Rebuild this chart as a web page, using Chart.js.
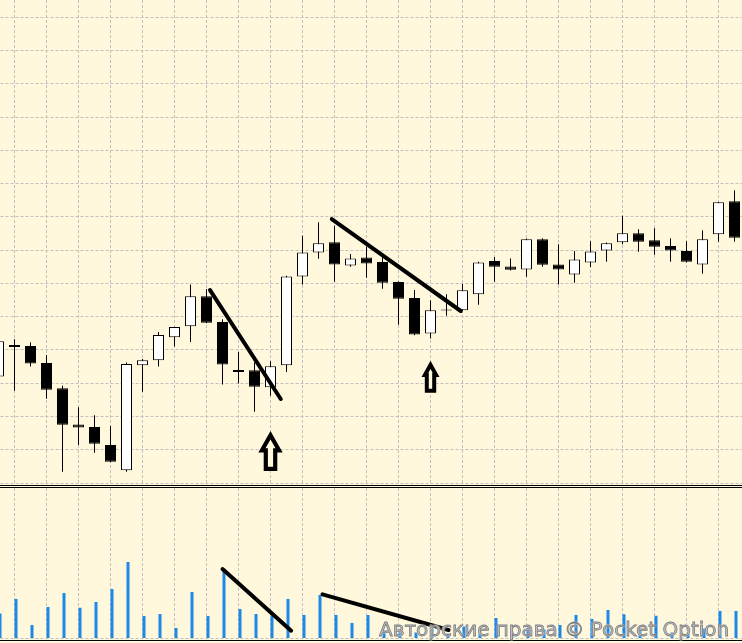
<!DOCTYPE html>
<html><head><meta charset="utf-8">
<script src="https://cdn.jsdelivr.net/npm/chart.js@4.4.0/dist/chart.umd.min.js"></script>
<style>
html,body{margin:0;padding:0;background:#fff8dc;width:742px;height:643px;overflow:hidden;position:relative}
#price{position:absolute;left:-10px;top:0;width:753px;height:485px}
#vol{position:absolute;left:-10px;top:488px;width:753px;height:152px}
.sep{position:absolute;left:0;width:742px;height:1px;background:#000}
#wm{position:absolute;left:379px;top:619px;font:20px/20px "DejaVu Sans",Verdana,sans-serif;color:#c2c2c2;-webkit-text-stroke:0.8px #7c7c7c;text-shadow:0 0 1px #fff,0 0 1px #fff,0 0 2px #fff;white-space:nowrap}
</style></head><body>
<canvas id="price" width="753" height="485"></canvas>
<div class="sep" style="top:485px"></div>
<div class="sep" style="top:487px"></div>
<canvas id="vol" width="753" height="152"></canvas>
<div class="sep" style="top:640px"></div>
<div id="wm">Авторские права © Pocket Option</div>
<script>
// ---- data ----
const labels = Array.from({length: 47}, (_, i) => String(i + 1));
const opens  = [32.0,41.5,41.2,36.1,28.5,17.6,16.8,11.4,3.8,35.4,36.9,43.8,47.1,56.1,48.4,34.0,33.9,28.8,35.4,62.1,69.3,72.4,65.4,67.8,66.4,60.4,55.6,44.9,52.15,51.9,56.7,66.7,65.1,64.2,73.3,65.7,62.7,66.3,69.9,72.4,75.1,73.0,71.2,69.7,65.7,74.8,84.7];
const closes = [42.6,40.9,35.9,28.0,17.5,16.7,11.8,6.4,35.8,36.9,44.5,46.9,56.1,48.2,35.6,33.4,28.9,35.1,62.1,69.3,72.1,65.7,67.5,66.0,60.2,55.4,44.6,51.9,51.85,57.9,66.3,65.0,64.1,73.3,65.6,64.2,67.2,69.6,72.1,75.1,72.5,71.0,69.9,66.5,73.3,84.4,73.7];
const highs  = [43.0,43.2,42.3,38.5,29.2,22.8,20.4,17.1,36.2,37.3,45.4,47.0,59.7,58.3,49.2,39.4,36.3,36.6,62.3,74.3,78.4,77.3,68.8,71.0,68.5,60.6,58.0,54.9,56.7,59.8,66.5,67.9,67.5,73.5,73.6,71.8,69.7,72.7,72.3,80.3,76.3,76.6,73.6,72.7,76.0,84.5,88.0];
const lows   = [31.6,27.7,35.0,25.3,3.4,11.4,9.1,6.2,3.4,27.4,35.0,41.0,42.4,48.0,29.6,29.9,21.4,26.2,33.4,59.7,67.4,60.5,65.0,61.7,58.4,47.6,44.4,43.4,50.3,51.7,53.6,60.5,63.9,62.0,65.0,59.7,60.2,64.9,66.5,71.8,69.5,68.6,66.5,66.3,62.9,72.5,72.5];
const volumes = [250,395,135,315,455,308,365,495,765,225,245,105,465,225,695,295,245,225,395,235,435,235,155,235,70,90,60,100,50,120,80,205,70,110,90,135,235,195,285,242,80,228,60,50,100,275,275];
const priceGridTicks = [0,10,20,30,40,50,60,70,80,90,100,110,120,130,140];
const volumeGridTicks = [0];
// trend lines (category index, value)
const priceTrend1 = [{x: 13.22, y: 58.0}, {x: 17.64, y: 25.25}];
const priceTrend2 = [{x: 20.83, y: 79.35}, {x: 28.89, y: 51.7}];
const volTrend1 = [{x: 14.0, y: 695}, {x: 18.29, y: 78}];
const volTrend2 = [{x: 20.25, y: 442}, {x: 28.13, y: 85}];
// up-arrows: index, tip, head base, bottom
const arrowIdx = [17, 27];
const arrowTip = [15.63, 36.77];
const arrowHead = [9.17, 31.86];
const arrowBottom = [3.61, 27.14];

// ---- styles ----
const GRID = '#c0c0c0';
const DASH = [3, 2];
const CREAM = '#fff8dc';
const VOLCOL = '#1e88e5';
const arrowHalfHead = [12.2, 9];
const arrowHalfShaft = [6.8, 5.7];
const arrowStroke = [4.2, 4];

function xGrid() {
  return {
    type: 'category', offset: true, display: true,
    grid: {offset: false, drawTicks: false, lineWidth: 1,
      color: c => (c.index % 2 === 1 ? GRID : 'rgba(0,0,0,0)'), borderDash: DASH},
    border: {display: false, dash: DASH},
    ticks: {display: false, autoSkip: false}
  };
}
function xLinear() {
  return {type: 'linear', display: false, offset: false, grid: {offset: false},
          min: -0.5, max: labels.length - 0.5};
}

const arrowPlugin = {
  id: 'arrows',
  afterDatasetsDraw(chart) {
    const ctx = chart.ctx, xs = chart.scales.x, ys = chart.scales.y;
    for (let a = 0; a < arrowIdx.length; a++) {
      const cx = xs.getPixelForValue(arrowIdx[a]);
      const yt = ys.getPixelForValue(arrowTip[a]);
      const yh = ys.getPixelForValue(arrowHead[a]);
      const yb = ys.getPixelForValue(arrowBottom[a]);
      const hw = arrowHalfHead[a], sw = arrowHalfShaft[a];
      ctx.save();
      ctx.beginPath();
      ctx.moveTo(cx, yt);
      ctx.lineTo(cx + hw, yh);
      ctx.lineTo(cx + sw, yh);
      ctx.lineTo(cx + sw, yb);
      ctx.lineTo(cx - sw, yb);
      ctx.lineTo(cx - sw, yh);
      ctx.lineTo(cx - hw, yh);
      ctx.closePath();
      ctx.fillStyle = CREAM;
      ctx.fill();
      ctx.clip();
      ctx.lineJoin = 'miter';
      ctx.lineWidth = arrowStroke[a] * 2;
      ctx.strokeStyle = '#000';
      ctx.stroke();
      ctx.restore();
    }
  }
};

function lineDs(pts) {
  return {type: 'line', data: pts, xAxisID: 'xl', yAxisID: 'y', borderColor: '#000', borderWidth: 4,
          borderCapStyle: 'round', pointRadius: 0, order: 0, clip: false};
}

new Chart(document.getElementById('price'), {
  type: 'bar',
  data: {
    labels,
    datasets: [
      lineDs(priceTrend1),
      lineDs(priceTrend2),
      {data: opens.map((o, i) => [o, closes[i]]), xAxisID: 'x', yAxisID: 'y', barThickness: 11, grouped: false,
       backgroundColor: opens.map((o, i) => closes[i] > o ? '#ffffff' : '#000000'),
       borderColor: '#000', borderWidth: 1, borderSkipped: false, inflateAmount: 0, order: 1},
      {data: lows.map((l, i) => [l, highs[i]]), xAxisID: 'x', yAxisID: 'y', barThickness: 1, grouped: false,
       backgroundColor: '#000', borderWidth: 0, inflateAmount: 0, order: 2}
    ]
  },
  options: {
    responsive: false, animation: false, devicePixelRatio: 1,
    layout: {padding: {left: 0.5, right: 0.5, top: 0, bottom: 0}},
    plugins: {legend: {display: false}, tooltip: {enabled: false}},
    scales: {
      x: xGrid(),
      xl: xLinear(),
      y: {type: 'linear', position: 'right', min: -0.601, max: 145.18,
          afterBuildTicks: s => { s.ticks = priceGridTicks.map(v => ({value: v})); },
          grid: {drawTicks: false, color: GRID, lineWidth: 1, borderDash: DASH},
          border: {display: false, dash: DASH}, ticks: {display: false}}
    }
  },
  plugins: [arrowPlugin]
});

new Chart(document.getElementById('vol'), {
  type: 'bar',
  data: {
    labels,
    datasets: [
      lineDs(volTrend1),
      lineDs(volTrend2),
      {data: volumes, xAxisID: 'x', yAxisID: 'y', barThickness: 3, backgroundColor: VOLCOL,
       borderWidth: 0, inflateAmount: 0, order: 1}
    ]
  },
  options: {
    responsive: false, animation: false, devicePixelRatio: 1,
    layout: {padding: {left: 0.5, right: 0.5, top: 0, bottom: 1.5}},
    plugins: {legend: {display: false}, tooltip: {enabled: false}},
    scales: {
      x: xGrid(),
      xl: xLinear(),
      y: {type: 'linear', position: 'right', min: 0, max: 1505,
          afterBuildTicks: s => { s.ticks = volumeGridTicks.map(v => ({value: v})); },
          grid: {drawTicks: false, color: GRID, lineWidth: 1, borderDash: DASH},
          border: {display: false, dash: DASH}, ticks: {display: false}}
    }
  }
});
</script>
</body></html>
